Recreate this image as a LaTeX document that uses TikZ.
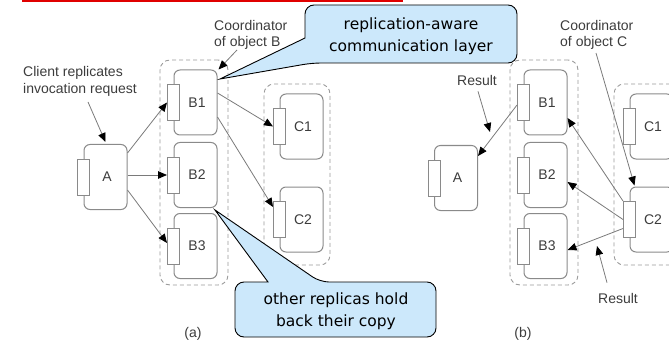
\documentclass[tikz,border=0pt]{standalone}
\usepackage{fontspec}
\setmainfont{Liberation Sans}
\newfontfamily\calloutfont{DejaVu Sans}
\usetikzlibrary{arrows.meta,calc}
\definecolor{boxgray}{HTML}{8A8A8A}
\definecolor{linegray}{HTML}{7A7A7A}
\definecolor{dashgray}{HTML}{9A9A9A}
\definecolor{txtgray}{HTML}{3C3C3C}
\definecolor{calloutblue}{HTML}{CCE8FB}
\definecolor{titlered}{HTML}{E00000}

\begin{document}
\begin{tikzpicture}[x=1pt,y=-1pt,
  obj/.style={draw=boxgray, line width=1pt, rounded corners=6pt,
    minimum width=43pt, minimum height=65pt, inner sep=0pt,
    font=\fontsize{14}{17}\selectfont, text=txtgray,
    execute at begin node={\hspace*{3pt}}},
  port/.style={draw=boxgray, line width=1pt, fill=white,
    minimum width=12pt, minimum height=36pt, inner sep=0pt},
  group/.style={draw=dashgray, line width=0.9pt, dash pattern=on 4pt off 3pt,
    rounded corners=10pt, inner sep=0pt},
  lbl/.style={text=txtgray, font=\fontsize{14}{16.5}\selectfont,
    inner sep=0pt, align=left},
  msg/.style={draw=linegray, line width=0.8pt,
    -{Triangle[length=9pt,width=7.5pt,color=black]}},
  callout/.style={draw=black, line width=0.9pt, fill=calloutblue},
  calltext/.style={font=\calloutfont\fontsize{15.5}{22}\selectfont,
    align=center, text=black, inner sep=0pt}
]
\useasboundingbox (0,0) rectangle (669,342);

% heading rule
\draw[titlered, line width=2pt] (22,1) -- (403,1);

% ---------- (a) forwarding the invocation ----------
\node[group, minimum width=68pt, minimum height=225pt] (aGB) at (194,172.5) {};
\node[group, minimum width=66pt, minimum height=181pt] (aGC) at (297,174.5) {};

\node[obj] (aA) at (105.5,177) {A};
\node[port] (aAp) at (aA.west) {};
\node[obj] (aB1) at (195.5,102.5) {B1};
\node[port] (aB1p) at (aB1.west) {};
\node[obj] (aB2) at (195.5,175) {B2};
\node[port] (aB2p) at (aB2.west) {};
\node[obj] (aB3) at (195.5,246) {B3};
\node[port] (aB3p) at (aB3.west) {};
\node[obj] (aC1) at (301.5,126.5) {C1};
\node[port] (aC1p) at (aC1.west) {};
\node[obj] (aC2) at (301.5,219.5) {C2};
\node[port] (aC2p) at (aC2.west) {};

\draw[msg] ([yshift=-9pt]aA.north east) -- (aB1p.west);
\draw[msg] ([yshift=2pt]aA.east) -- (aB2p.west);
\draw[msg] ([yshift=-13pt]aA.east) -- ([yshift=3pt]aB3p.west);
\draw[msg] ([yshift=9.5pt]aB1.east) -- (aC1p.west);
\draw[msg] ([yshift=-14.5pt]aB1.east) -- ([yshift=-6pt]aC2p.north west);

\node[lbl, anchor=west] (clientNote) at (23,81.5) {Client replicates\\invocation request};
\coordinate (clientFrom) at (88,102);
\draw[msg] (clientFrom) -- ([yshift=2pt]aA.north);

\node[lbl, anchor=west] (coordB) at (214,35) {Coordinator\\of object B};
\coordinate (coordBFrom) at (237,50);
\draw[msg] (coordBFrom) -- ([xshift=1pt]aB1.north east);

\node[lbl] (capA) at (193,334) {(a)};

% ---------- (b) returning the result ----------
\node[group, minimum width=68pt, minimum height=225pt] (bGB) at (544,172.5) {};
\node[group, minimum width=66pt, minimum height=181pt] (bGC) at (647,174.5) {};

\node[obj] (bA) at (456,178) {A};
\node[port] (bAp) at (bA.west) {};
\node[obj] (bB1) at (545.5,102.5) {B1};
\node[port] (bB1p) at (bB1.west) {};
\node[obj] (bB2) at (545.5,175) {B2};
\node[port] (bB2p) at (bB2.west) {};
\node[obj] (bB3) at (545.5,246) {B3};
\node[port] (bB3p) at (bB3.west) {};
\node[obj] (bC1) at (651.5,126.5) {C1};
\node[port] (bC1p) at (bC1.west) {};
\node[obj] (bC2) at (651.5,219.5) {C2};
\node[port] (bC2p) at (bC2.west) {};

\draw[msg] ([yshift=-2.5pt]bB1p.west) -- ([yshift=-11pt]bA.north east);
\draw[msg] (bC2p.north west) -- ([yshift=-15.5pt]bB1.east);
\draw[msg] (bC2p.west) -- ([yshift=-7pt]bB2.east);
\draw[msg] ([yshift=-9pt]bC2p.west) -- ([yshift=-4pt]bB3.east);

\node[lbl] (resTop) at (477,80) {Result};
\coordinate (resTopTip) at (490,132);
\draw[msg] ([xshift=1pt,yshift=-6pt]resTop.south) -- (resTopTip);

\node[lbl, anchor=west] (coordC) at (560,35) {Coordinator\\of object C};
\coordinate (coordCFrom) at (596,53);
\draw[msg] (coordCFrom) -- ([xshift=5pt,yshift=1pt]bC2.north west);

\node[lbl] (resBot) at (618,298) {Result};
\coordinate (resBotTip) at (597,246);
\draw[msg] ([xshift=-11pt,yshift=10pt]resBot.north) -- (resBotTip);

\node[lbl] (capB) at (523,334) {(b)};

% ---------- speech bubbles ----------
\coordinate (layerTip) at (220,79);
\draw[callout] (layerTip) -- (305,38) [rounded corners=9pt] -- (305,5) -- (517,5)
  -- (517,63) -- (312,63) [sharp corners] -- cycle;
\node[calltext] (layerNote) at (411,36.5) {replication-aware\\communication layer};

\coordinate (holdTip) at (215,210);
\draw[callout] (holdTip) -- (268,282) [rounded corners=9pt] -- (235,282) -- (235,337)
  -- (436,337) -- (436,282) -- (320,282) [sharp corners] -- cycle;
\node[calltext] (holdNote) at (336,311) {other replicas hold\\back their copy};
\end{tikzpicture}
\end{document}
